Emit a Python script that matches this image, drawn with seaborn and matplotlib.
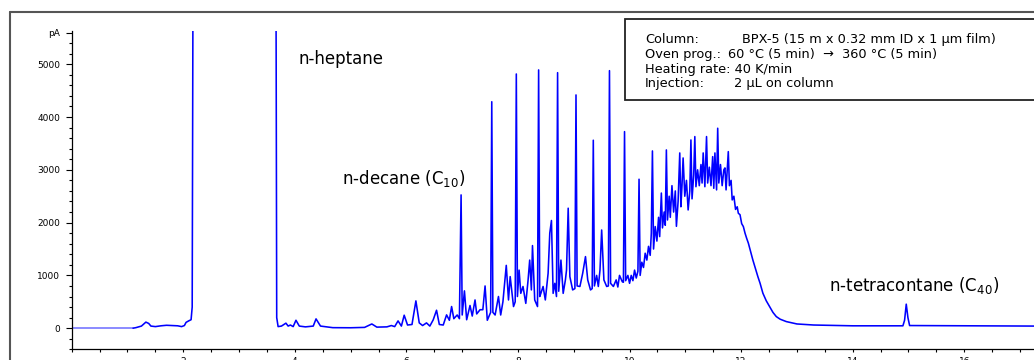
import numpy as np
import pandas as pd
import matplotlib.pyplot as plt
import seaborn as sns
from matplotlib.ticker import MultipleLocator, FixedLocator
from matplotlib.patches import Rectangle
from matplotlib.lines import Line2D

# -----------------------------
# Trace data (time in min, signal in pA)
# -----------------------------
start_t = [0.0, 1.10]
start_y = [0, 0]

# solvent front + n-heptane (signal goes off scale between 2.2 and 3.65 min)
solvent_t = [1.10, 1.15, 1.25, 1.33, 1.38, 1.42, 1.50, 1.60, 1.70, 1.80, 1.90, 1.97,
             2.02, 2.05, 2.10, 2.14, 2.16, 2.18, 3.655, 3.665, 3.675, 3.70]
solvent_y = [0, 10, 40, 115, 90, 40, 30, 45, 55, 50, 45, 30,
             50, 110, 140, 160, 400, 9000, 9000, 5200, 200, 30]

# light components up to n-decane
early_t = [3.76, 3.84, 3.88, 3.92, 3.97, 4.02, 4.08, 4.19, 4.33, 4.38, 4.46, 4.68,
           5.00, 5.25, 5.38, 5.47, 5.65, 5.73, 5.79, 5.85, 5.91, 5.96, 6.02, 6.10,
           6.17, 6.23, 6.29, 6.36, 6.42, 6.48, 6.54, 6.59, 6.66, 6.72, 6.77, 6.81,
           6.85, 6.91, 6.95, 6.98, 7.00]
early_y = [40, 95, 40, 60, 30, 150, 40, 25, 40, 176, 40, 10,
           8, 15, 80, 20, 25, 50, 30, 138, 40, 246, 60, 70,
           517, 100, 50, 100, 40, 157, 340, 70, 60, 252, 150, 410,
           180, 250, 180, 2525, 250]

# n-alkane series C11..C20 region
mid_t = [7.04, 7.08, 7.14, 7.18, 7.23, 7.26, 7.32, 7.37, 7.41, 7.45, 7.51, 7.53,
         7.55, 7.59, 7.65, 7.69, 7.73, 7.79, 7.83, 7.86, 7.92, 7.95, 7.97, 7.99,
         8.02, 8.05, 8.09, 8.14, 8.18, 8.21, 8.24, 8.26, 8.30, 8.35, 8.37, 8.39,
         8.41, 8.45, 8.49, 8.54, 8.57, 8.60, 8.63, 8.66, 8.69, 8.71, 8.73, 8.77,
         8.81, 8.85, 8.87, 8.90, 8.93, 8.98, 9.02, 9.04, 9.06, 9.11, 9.16, 9.21,
         9.25, 9.30, 9.33, 9.35, 9.37, 9.41, 9.44, 9.47, 9.50, 9.54, 9.59, 9.62,
         9.64, 9.66, 9.71, 9.76, 9.79, 9.82, 9.87, 9.89, 9.91, 9.93, 9.97]
mid_y = [707, 160, 430, 230, 535, 270, 350, 350, 800, 150, 300, 4290,
         300, 250, 600, 250, 500, 1190, 535, 977, 410, 500, 4816, 600,
         1100, 660, 790, 470, 900, 1290, 725, 1565, 535, 410, 4893, 600,
         660, 790, 535, 1040, 1800, 2040, 660, 850, 600, 4841, 700, 1290,
         660, 915, 1100, 2273, 977, 725, 750, 4419, 800, 790, 1040, 1356,
         915, 725, 750, 3561, 800, 1000, 790, 1100, 1860, 915, 790, 800,
         4879, 850, 790, 915, 780, 1000, 880, 870, 3724, 900, 1000]

# top of the unresolved hump
hump_t = [10.00, 10.03, 10.06, 10.09, 10.12, 10.15, 10.17, 10.19, 10.22, 10.25, 10.28, 10.31,
          10.34, 10.37, 10.39, 10.41, 10.43, 10.46, 10.49, 10.52, 10.54, 10.57, 10.59, 10.62,
          10.64, 10.66, 10.68, 10.71, 10.73, 10.76, 10.79, 10.82, 10.84, 10.87, 10.90, 10.92,
          10.94, 10.96, 10.99, 11.02, 11.05, 11.08, 11.10, 11.12, 11.15, 11.17, 11.19, 11.22,
          11.25, 11.28, 11.30, 11.32, 11.35, 11.38, 11.40, 11.43, 11.46, 11.49, 11.51, 11.53,
          11.56, 11.58, 11.60, 11.63, 11.66, 11.69, 11.71, 11.73, 11.75, 11.77, 11.79, 11.82,
          11.84, 11.87, 11.90, 11.93, 11.95, 11.98, 12.01, 12.04, 12.07, 12.10, 12.13, 12.17,
          12.21, 12.25, 12.30, 12.34, 12.39, 12.45, 12.51, 12.57, 12.63, 12.70, 12.81]
hump_y = [850, 1000, 900, 1100, 950, 1080, 2822, 1000, 1250, 1150, 1420, 1290,
          1550, 1380, 1800, 3358, 1500, 1925, 1650, 2100, 1735, 2560, 1900, 2200,
          1950, 3377, 2050, 2500, 2100, 2700, 2200, 2600, 1930, 2400, 3320, 2300,
          2700, 3225, 2500, 2800, 2240, 2600, 3566, 2450, 2900, 3630, 2680, 3000,
          2700, 3100, 2750, 3320, 2680, 3630, 2750, 3050, 2700, 3250, 2650, 3320,
          2620, 3788, 2750, 3100, 2700, 3000, 3036, 2620, 3000, 3345, 2700, 2800,
          2430, 2500, 2250, 2300, 2177, 2150, 1980, 1925, 1800, 1700, 1610, 1450,
          1293, 1150, 977, 850, 663, 520, 410, 300, 220, 170, 125]

# tail with n-tetracontane
tail_t = [13.00, 13.30, 14.00, 14.90, 14.93, 14.96, 14.99, 15.02, 16.00, 17.25]
tail_y = [80, 60, 45, 45, 150, 455, 200, 50, 45, 40]

main = pd.DataFrame({
    "time": solvent_t + early_t + mid_t + hump_t + tail_t,
    "signal": solvent_y + early_y + mid_y + hump_y + tail_y,
})
start = pd.DataFrame({"time": start_t, "signal": start_y})

y_major = [0, 1000, 2000, 3000, 4000, 5000, 5600]
y_labels = ["0", "1000", "2000", "3000", "4000", "5000", "pA"]
x_major = [2, 4, 6, 8, 10, 12, 14, 16]

# -----------------------------
# Plot
# -----------------------------
sns.set_style("ticks")
plt.rcParams["font.family"] = ["DejaVu Sans"]
plt.rcParams["text.color"] = "black"
plt.rcParams["xtick.color"] = "black"
plt.rcParams["ytick.color"] = "black"

W, H = 1034, 360
fig = plt.figure(figsize=(W / 100, H / 100), dpi=100)
ax = fig.add_axes([71.7 / W, 10.7 / H, 1 - 71.7 / W, 318.3 / H])

sns.lineplot(data=start, x="time", y="signal", sort=False, estimator=None,
             color="#6b6bff", linewidth=1.1, ax=ax)
sns.lineplot(data=main, x="time", y="signal", sort=False, estimator=None,
             color="#0000ff", linewidth=1.15, ax=ax)

ax.set_xlim(0, 17.25)
ax.set_ylim(-400, 5630)
ax.set_xlabel("")
ax.set_ylabel("")

ax.yaxis.set_major_locator(FixedLocator(y_major))
ax.set_yticklabels(y_labels)
ax.yaxis.set_minor_locator(MultipleLocator(200))
ax.xaxis.set_major_locator(FixedLocator(x_major))
ax.xaxis.set_minor_locator(MultipleLocator(0.5))

ax.tick_params(axis="y", which="major", length=4.3, width=0.8, labelsize=6.5, pad=4)
ax.tick_params(axis="y", which="minor", length=2.2, width=0.8)
ax.tick_params(axis="x", which="both", length=2.5, width=0.8, labelsize=6.5, pad=3)

for side in ["top", "right"]:
    ax.spines[side].set_visible(False)
for side in ["left", "bottom"]:
    ax.spines[side].set_linewidth(0.9)
    ax.spines[side].set_color("black")

# Peak labels
ax.text(4.06, 5000, "n-heptane", fontsize=12, va="baseline", ha="left")
ax.text(4.84, 2733, "n-decane (C$_{10}$)", fontsize=12, va="baseline", ha="left")
ax.text(13.58, 712, "n-tetracontane (C$_{40}$)", fontsize=12, va="baseline", ha="left")

# Method box (figure pixel coordinates)
def fx(px):
    return px / W

def fy(py):
    return 1 - py / H

fig.add_artist(Rectangle((fx(625), fy(100)), 1.0, (100 - 18.5) / H,
                         transform=fig.transFigure, fill=True, facecolor="white",
                         edgecolor="#222222", linewidth=1.3))
left_col = ["Column:", "Oven prog.:", "Heating rate: 40 K/min", "Injection:"]
right_col = ["BPX-5 (15 m x 0.32 mm ID x 1 µm film)", "60 °C (5 min)  \u2192  360 °C (5 min)",
             "", "2 µL on column"]
right_x = [741.7, 728, 0, 734]
baselines = [43.3, 58.0, 72.5, 87.0]
for lab, val, rx, by in zip(left_col, right_col, right_x, baselines):
    fig.text(fx(645), fy(by), lab, fontsize=9.3, va="baseline", ha="left")
    if val:
        fig.text(fx(rx), fy(by), val, fontsize=9.3, va="baseline", ha="left")

# Outer grey frame
fig.add_artist(Line2D([fx(10), fx(10)], [fy(12), 0], transform=fig.transFigure,
                      color="#555555", linewidth=1.5))
fig.add_artist(Line2D([fx(10), 1], [fy(12), fy(12)], transform=fig.transFigure,
                      color="#555555", linewidth=1.5))

fig.savefig("out.png", dpi=100)
